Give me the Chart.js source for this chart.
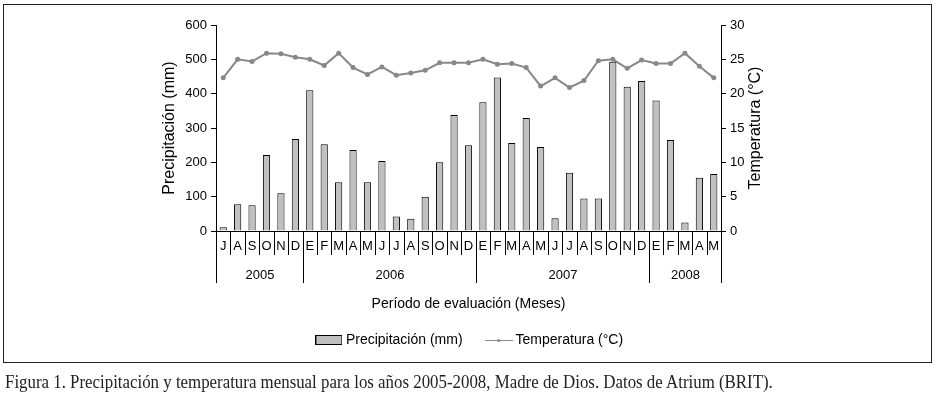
<!DOCTYPE html>
<html>
<head>
<meta charset="utf-8">
<script src="https://cdn.jsdelivr.net/npm/chart.js@4"></script>
<style>
  html, body { margin: 0; padding: 0; background: #fff; }
  body { width: 940px; height: 399px; position: relative; overflow: hidden; }
  #frame { position: absolute; left: 3px; top: 4px; width: 927px; height: 357px; border: 1px solid #222; }
  #wrap { position: absolute; left: 0; top: 0; width: 940px; height: 399px; }
  #caption { position: absolute; left: 5px; top: 372px; font-family: "Liberation Serif", serif; font-size: 18px;
    color: #222; white-space: nowrap; transform-origin: left top; }
</style>
</head>
<body>
<div id="frame"></div>
<div id="wrap"><canvas id="climaChart" width="940" height="399"></canvas></div>
<div id="caption">Figura 1. Precipitación y temperatura mensual para los años 2005-2008, Madre de Dios. Datos de Atrium (BRIT).</div>
<script>
// meses jul 2005 - may 2008
const meses = ['J','A','S','O','N','D',
  'E','F','M','A','M','J','J','A','S','O','N','D',
  'E','F','M','A','M','J','J','A','S','O','N','D',
  'E','F','M','A','M'];
const anios = ['2005', '2006', '2007', '2008'];
const mesesPorAnio = [6, 12, 12, 5];

const precipitacion = [11, 78, 75, 221, 110, 268,
  410, 253, 142, 236, 142, 204, 42, 36, 100, 200, 338, 250,
  375, 447, 256, 329, 245, 37, 170, 95, 95, 493, 420, 437,
  380, 265, 25, 155, 166];
const temperatura = [22.3, 25.0, 24.7, 25.9, 25.8, 25.3,
  25.0, 24.1, 25.9, 23.8, 22.8, 23.9, 22.7, 23.0, 23.4, 24.5, 24.5, 24.5,
  25.0, 24.3, 24.4, 23.8, 21.1, 22.3, 20.9, 21.9, 24.8, 25.0, 23.7, 24.9,
  24.4, 24.4, 25.9, 24.0, 22.3];

const precipTicks = [0, 100, 200, 300, 400, 500, 600];
const tempTicks = [0, 5, 10, 15, 20, 25, 30];

const FONT = 'Liberation Sans, Arial, sans-serif';
Chart.defaults.font.family = FONT;
Chart.defaults.color = '#000';

// muestras de la leyenda
function swatchBar() {
  const c = document.createElement('canvas');
  c.width = 27; c.height = 10;
  const g = c.getContext('2d');
  g.fillStyle = '#c0c0c0';
  g.fillRect(0, 0, 27, 10);
  g.strokeStyle = '#000';
  g.lineWidth = 1;
  g.strokeRect(0.5, 0.5, 26, 9);
  return c;
}
function swatchLine() {
  const c = document.createElement('canvas');
  c.width = 28; c.height = 10;
  const g = c.getContext('2d');
  g.strokeStyle = '#888';
  g.lineWidth = 1;
  g.beginPath(); g.moveTo(0, 5.5); g.lineTo(28, 5.5); g.stroke();
  g.fillStyle = '#888';
  g.beginPath(); g.arc(14, 5.5, 1.6, 0, Math.PI * 2); g.fill();
  return c;
}

// separadores de meses y años + etiquetas de años + título derecho
const ejeMeses = {
  id: 'ejeMeses',
  afterDraw(chart) {
    const ctx = chart.ctx;
    const xs = chart.scales.x;
    const step = xs.getPixelForValue(1) - xs.getPixelForValue(0);
    const borde = i => Math.round(xs.getPixelForValue(i) - step / 2) + 0.5;
    const top = xs.top;

    const inicios = [0];
    mesesPorAnio.forEach(n => inicios.push(inicios[inicios.length - 1] + n));

    ctx.save();
    ctx.strokeStyle = '#000';
    ctx.lineWidth = 1;
    ctx.beginPath();
    for (let i = 0; i <= meses.length; i++) {
      const x = borde(i);
      const largo = inicios.includes(i) ? 52 : 24;
      ctx.moveTo(x, top);
      ctx.lineTo(x, top + largo);
    }
    ctx.stroke();

    ctx.font = '13px ' + FONT;
    ctx.fillStyle = '#000';
    ctx.textAlign = 'center';
    ctx.textBaseline = 'middle';
    anios.forEach((a, k) => {
      const x = (borde(inicios[k]) + borde(inicios[k + 1])) / 2;
      ctx.fillText(a, x, top + 44);
    });

    // título del eje derecho, girado como el izquierdo
    const y1 = chart.scales.y1;
    ctx.translate(756, (y1.top + y1.bottom) / 2);
    ctx.rotate(-Math.PI / 2);
    ctx.font = '16px ' + FONT;
    ctx.fillText('Temperatura (°C)', 0, 0);
    ctx.restore();
  }
};

const ctx = document.getElementById('climaChart').getContext('2d');
new Chart(ctx, {
  type: 'bar',
  data: {
    labels: meses,
    datasets: [{
      label: 'Precipitación (mm)',
      data: precipitacion,
      yAxisID: 'y',
      backgroundColor: '#c0c0c0',
      borderColor: '#000',
      borderWidth: { top: 1, left: 1, right: 1, bottom: 0 },
      barPercentage: 0.5,
      categoryPercentage: 1,
      order: 1
    }, {
      type: 'line',
      label: 'Temperatura (°C)',
      data: temperatura,
      yAxisID: 'y1',
      borderColor: '#888',
      backgroundColor: '#888',
      borderWidth: 2,
      pointRadius: 2.5,
      pointBackgroundColor: '#888',
      pointBorderWidth: 0,
      tension: 0,
      order: 0
    }]
  },
  options: {
    responsive: false,
    animation: false,
    layout: { padding: { left: 150, right: 148, top: 25, bottom: 42 } },
    plugins: {
      tooltip: { enabled: false },
      legend: {
        position: 'bottom',
        labels: {
          usePointStyle: true,
          pointStyleWidth: 20,
          boxHeight: 10,
          padding: 26,
          font: { size: 14 },
          sort: (a, b) => a.datasetIndex - b.datasetIndex,
          generateLabels(chart) {
            const items = Chart.defaults.plugins.legend.labels.generateLabels(chart);
            items.forEach(it => {
              it.pointStyle = it.datasetIndex === 0 ? swatchBar() : swatchLine();
            });
            return items;
          }
        }
      }
    },
    scales: {
      x: {
        grid: { display: false, drawTicks: false },
        border: { display: true, color: '#000' },
        ticks: { font: { size: 13 }, padding: 8, maxRotation: 0, autoSkip: false },
        title: { display: true, text: 'Período de evaluación (Meses)', font: { size: 14 }, padding: { top: 0, bottom: -5.4 } },
        afterFit(s) { s.height = 76; }
      },
      y: {
        position: 'left',
        min: 0, max: 600,
        afterBuildTicks(s) { s.ticks = precipTicks.map(v => ({ value: v })); },
        grid: { drawOnChartArea: false, tickLength: 5, color: '#000' },
        border: { color: '#000' },
        ticks: { font: { size: 13 }, padding: 4 },
        title: { display: true, text: 'Precipitación (mm)', font: { size: 16 }, padding: { top: 10.4, bottom: 0 } },
        afterFit(s) { s.width = 66; }
      },
      y1: {
        position: 'right',
        min: 0, max: 30,
        afterBuildTicks(s) { s.ticks = tempTicks.map(v => ({ value: v })); },
        grid: { drawOnChartArea: false, tickLength: 5, color: '#000' },
        border: { color: '#000' },
        ticks: { font: { size: 13 }, padding: 4 },
        afterFit(s) { s.width = 71; }
      }
    }
  },
  plugins: [ejeMeses]
});

// ajustar el ancho del pie de figura
const cap = document.getElementById('caption');
cap.style.transform = 'scaleX(' + (768 / cap.offsetWidth) + ')';
</script>
</body>
</html>
